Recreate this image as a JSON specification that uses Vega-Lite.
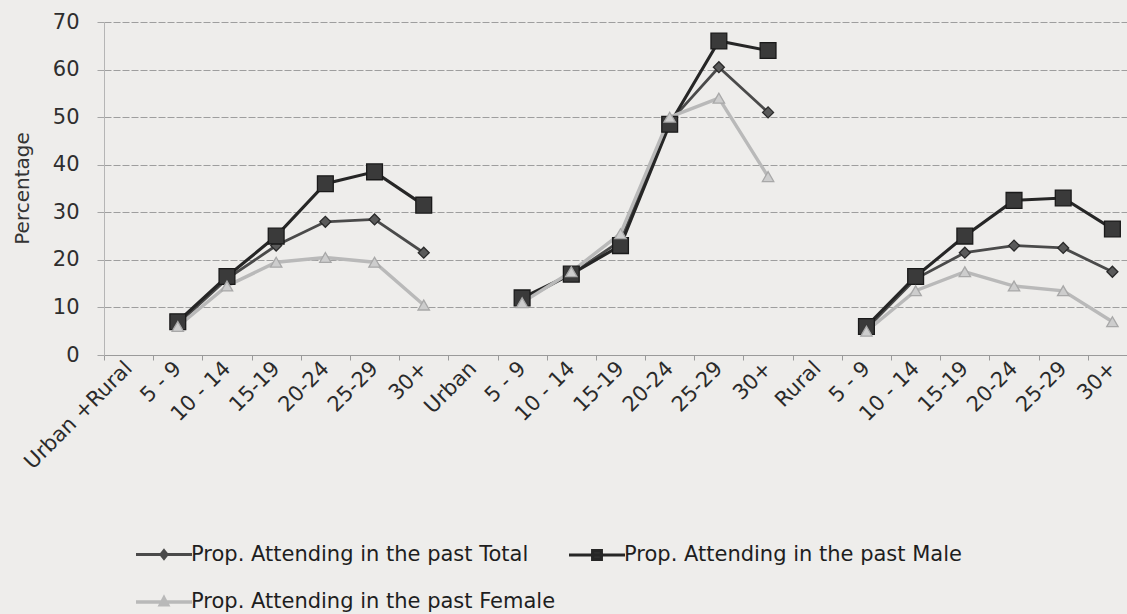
{
  "$schema": "https://vega.github.io/schema/vega-lite/v6.json",
  "autosize": "none",
  "padding": {"left": 104, "top": 22, "right": 0, "bottom": 259},
  "width": 1033,
  "height": 333,
  "background": "#eeedeb",
  "config": {
    "view": {"stroke": null},
    "font": "DejaVu Sans"
  },
  "data": {
    "values": [
      {"idx": 1, "group": "UR", "series": "Prop. Attending in the past Total", "value": 6.5},
      {"idx": 2, "group": "UR", "series": "Prop. Attending in the past Total", "value": 16},
      {"idx": 3, "group": "UR", "series": "Prop. Attending in the past Total", "value": 23},
      {"idx": 4, "group": "UR", "series": "Prop. Attending in the past Total", "value": 28},
      {"idx": 5, "group": "UR", "series": "Prop. Attending in the past Total", "value": 28.5},
      {"idx": 6, "group": "UR", "series": "Prop. Attending in the past Total", "value": 21.5},
      {"idx": 1, "group": "UR", "series": "Prop. Attending in the past  Male", "value": 7},
      {"idx": 2, "group": "UR", "series": "Prop. Attending in the past  Male", "value": 16.5},
      {"idx": 3, "group": "UR", "series": "Prop. Attending in the past  Male", "value": 25},
      {"idx": 4, "group": "UR", "series": "Prop. Attending in the past  Male", "value": 36},
      {"idx": 5, "group": "UR", "series": "Prop. Attending in the past  Male", "value": 38.5},
      {"idx": 6, "group": "UR", "series": "Prop. Attending in the past  Male", "value": 31.5},
      {"idx": 1, "group": "UR", "series": "Prop. Attending in the past  Female", "value": 6},
      {"idx": 2, "group": "UR", "series": "Prop. Attending in the past  Female", "value": 14.5},
      {"idx": 3, "group": "UR", "series": "Prop. Attending in the past  Female", "value": 19.5},
      {"idx": 4, "group": "UR", "series": "Prop. Attending in the past  Female", "value": 20.5},
      {"idx": 5, "group": "UR", "series": "Prop. Attending in the past  Female", "value": 19.5},
      {"idx": 6, "group": "UR", "series": "Prop. Attending in the past  Female", "value": 10.5},
      {"idx": 8, "group": "U", "series": "Prop. Attending in the past Total", "value": 11.5},
      {"idx": 9, "group": "U", "series": "Prop. Attending in the past Total", "value": 17},
      {"idx": 10, "group": "U", "series": "Prop. Attending in the past Total", "value": 24},
      {"idx": 11, "group": "U", "series": "Prop. Attending in the past Total", "value": 49},
      {"idx": 12, "group": "U", "series": "Prop. Attending in the past Total", "value": 60.5},
      {"idx": 13, "group": "U", "series": "Prop. Attending in the past Total", "value": 51},
      {"idx": 8, "group": "U", "series": "Prop. Attending in the past  Male", "value": 12},
      {"idx": 9, "group": "U", "series": "Prop. Attending in the past  Male", "value": 17},
      {"idx": 10, "group": "U", "series": "Prop. Attending in the past  Male", "value": 23},
      {"idx": 11, "group": "U", "series": "Prop. Attending in the past  Male", "value": 48.5},
      {"idx": 12, "group": "U", "series": "Prop. Attending in the past  Male", "value": 66},
      {"idx": 13, "group": "U", "series": "Prop. Attending in the past  Male", "value": 64},
      {"idx": 8, "group": "U", "series": "Prop. Attending in the past  Female", "value": 11},
      {"idx": 9, "group": "U", "series": "Prop. Attending in the past  Female", "value": 17.5},
      {"idx": 10, "group": "U", "series": "Prop. Attending in the past  Female", "value": 25.5},
      {"idx": 11, "group": "U", "series": "Prop. Attending in the past  Female", "value": 50},
      {"idx": 12, "group": "U", "series": "Prop. Attending in the past  Female", "value": 54},
      {"idx": 13, "group": "U", "series": "Prop. Attending in the past  Female", "value": 37.5},
      {"idx": 15, "group": "R", "series": "Prop. Attending in the past Total", "value": 5.5},
      {"idx": 16, "group": "R", "series": "Prop. Attending in the past Total", "value": 16},
      {"idx": 17, "group": "R", "series": "Prop. Attending in the past Total", "value": 21.5},
      {"idx": 18, "group": "R", "series": "Prop. Attending in the past Total", "value": 23},
      {"idx": 19, "group": "R", "series": "Prop. Attending in the past Total", "value": 22.5},
      {"idx": 20, "group": "R", "series": "Prop. Attending in the past Total", "value": 17.5},
      {"idx": 15, "group": "R", "series": "Prop. Attending in the past  Male", "value": 6},
      {"idx": 16, "group": "R", "series": "Prop. Attending in the past  Male", "value": 16.5},
      {"idx": 17, "group": "R", "series": "Prop. Attending in the past  Male", "value": 25},
      {"idx": 18, "group": "R", "series": "Prop. Attending in the past  Male", "value": 32.5},
      {"idx": 19, "group": "R", "series": "Prop. Attending in the past  Male", "value": 33},
      {"idx": 20, "group": "R", "series": "Prop. Attending in the past  Male", "value": 26.5},
      {"idx": 15, "group": "R", "series": "Prop. Attending in the past  Female", "value": 5},
      {"idx": 16, "group": "R", "series": "Prop. Attending in the past  Female", "value": 13.5},
      {"idx": 17, "group": "R", "series": "Prop. Attending in the past  Female", "value": 17.5},
      {"idx": 18, "group": "R", "series": "Prop. Attending in the past  Female", "value": 14.5},
      {"idx": 19, "group": "R", "series": "Prop. Attending in the past  Female", "value": 13.5},
      {"idx": 20, "group": "R", "series": "Prop. Attending in the past  Female", "value": 7}
    ]
  },
  "encoding": {
    "x": {
      "field": "idx",
      "type": "ordinal",
      "scale": {"type": "point", "padding": 0.5, "domain": [0,1,2,3,4,5,6,7,8,9,10,11,12,13,14,15,16,17,18,19,20]},
      "axis": {
        "title": null,
        "labelAngle": -45,
        "labelAlign": "right",
        "labelBaseline": "middle",
        "labelFontSize": 21,
        "labelColor": "#2a2a2a",
        "labelPadding": 5,
        "tickOffset": -24.6,
        "labelOffset": 24.6,
        "labelExpr": "['Urban +Rural','5 - 9','10 - 14','15-19','20-24','25-29','30+','Urban','5 - 9','10 - 14','15-19','20-24','25-29','30+','Rural','5 - 9','10 - 14','15-19','20-24','25-29','30+'][datum.value]",
        "domainColor": "#9a9a9a",
        "tickColor": "#9a9a9a",
        "tickSize": 5,
        "grid": false,
        "labelOverlap": false
      }
    },
    "y": {
      "field": "value",
      "type": "quantitative",
      "scale": {"domain": [0, 70]},
      "axis": {
        "title": "Percentage",
        "titleFontSize": 20,
        "titleFontWeight": "normal",
        "titleColor": "#333333",
        "titleX": -82,
        "titleY": 166,
        "titleAngle": -90,
        "titleAlign": "center",
        "titleBaseline": "middle",
        "values": [0, 10, 20, 30, 40, 50, 60, 70],
        "labelFontSize": 21,
        "labelColor": "#2e2e2e",
        "labelPadding": 18,
        "tickSize": 7,
        "tickColor": "#a5a5a5",
        "domainColor": "#b5b5b5",
        "gridColor": "#9e9e9e",
        "gridDash": [7, 2],
        "gridWidth": 1.2
      }
    }
  },
  "layer": [
    {
      "mark": {"type": "line"},
      "encoding": {
        "detail": {"field": "group"},
        "color": {
          "field": "series",
          "type": "nominal",
          "scale": {
            "domain": ["Prop. Attending in the past Total", "Prop. Attending in the past  Male", "Prop. Attending in the past  Female"],
            "range": ["#4a4a4a", "#262626", "#b9b9b9"]
          },
          "legend": {
            "title": null,
            "orient": "none",
            "legendX": 38,
            "legendY": 511,
            "direction": "horizontal",
            "columns": 2,
            "gridAlign": "none",
            "columnPadding": 0,
            "rowPadding": 14,
            "labelFontSize": 21,
            "labelColor": "#1e1e1e",
            "labelLimit": 600,
            "labelOffset": 5,
            "symbolSize": 1600,
            "symbolStrokeWidth": 2,
            "encode": {
              "symbols": {
                "update": {
                  "shape": {"signal": "datum.value === 'Prop. Attending in the past Total' ? 'M-1.4,0H1.4M0,-0.2L0.16,0L0,0.2L-0.16,0Z' : (datum.value === 'Prop. Attending in the past  Male' ? 'M-1.4,0H1.4M-0.22,-0.22H0.22V0.22H-0.22Z' : 'M-1.4,0H1.4M0,-0.2L0.18,0.14H-0.18Z')"},
                  "size": {"value": 1600},
                  "fill": {"signal": "datum.value === 'Prop. Attending in the past Total' ? '#4a4a4a' : (datum.value === 'Prop. Attending in the past  Male' ? '#333333' : '#cfcfcf')"},
                  "stroke": {"signal": "datum.value === 'Prop. Attending in the past Total' ? '#4a4a4a' : (datum.value === 'Prop. Attending in the past  Male' ? '#262626' : '#b9b9b9')"},
                  "strokeWidth": {"value": 2},
                  "opacity": {"value": 1}
                }
              }
            }
          }
        },
        "strokeWidth": {
          "field": "series",
          "type": "nominal",
          "scale": {
            "domain": ["Prop. Attending in the past Total", "Prop. Attending in the past  Male", "Prop. Attending in the past  Female"],
            "range": [2.8, 3.4, 2.3]
          },
          "legend": null
        }
      }
    },
    {
      "transform": [{"filter": "datum.series === 'Prop. Attending in the past Total'"}],
      "mark": {"type": "point", "shape": "diamond", "filled": true, "opacity": 1, "size": 120, "fill": "#5a5a5a", "stroke": "#2a2a2a", "strokeWidth": 1.3},
      "encoding": {}
    },
    {
      "transform": [{"filter": "datum.series === 'Prop. Attending in the past  Male'"}],
      "mark": {"type": "point", "shape": "square", "filled": true, "opacity": 1, "size": 250, "fill": "#3a3a3a", "stroke": "#1a1a1a", "strokeWidth": 1.3},
      "encoding": {}
    },
    {
      "transform": [{"filter": "datum.series === 'Prop. Attending in the past  Female'"}],
      "mark": {"type": "point", "shape": "triangle-up", "filled": true, "opacity": 1, "size": 130, "fill": "#cdcdcd", "stroke": "#a8a8a8", "strokeWidth": 1.3},
      "encoding": {}
    }
  ]
}
